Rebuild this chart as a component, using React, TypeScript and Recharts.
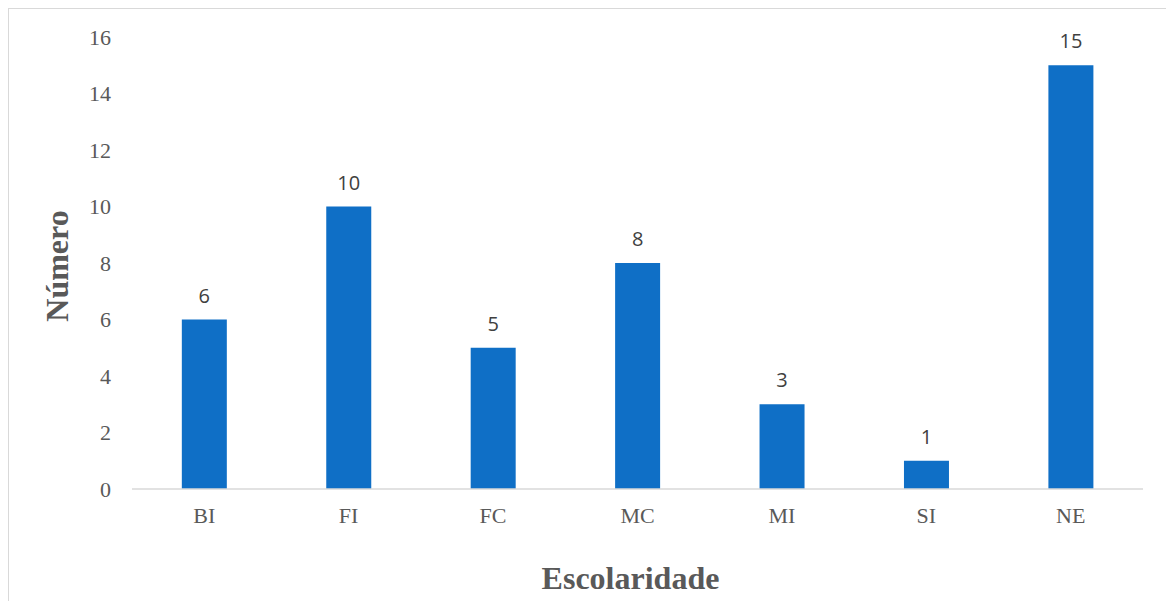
import { Bar, BarChart, LabelList, XAxis, YAxis } from "recharts";

// Escolaridade categories and counts
const categories = ["BI", "FI", "FC", "MC", "MI", "SI", "NE"];
const counts = [6, 10, 5, 8, 3, 1, 15];
const yTicks = [0, 2, 4, 6, 8, 10, 12, 14, 16];

const data = categories.map((name, i) => ({ name, value: counts[i] }));

const serif = "'Liberation Serif', 'Times New Roman', serif";
const sans = "'Open Sans', 'Liberation Sans', sans-serif";

export default function App() {
  return (
    <div style={{ position: "relative", width: 1166, height: 601, overflow: "hidden", background: "#fff" }}>
      <style>{"body{margin:0;overflow:hidden}"}</style>
      {/* chart frame, runs off the right/bottom edge like the source */}
      <div
        style={{
          position: "absolute",
          left: 8,
          top: 8,
          width: 1180,
          height: 620,
          border: "1.5px solid #d9d9d9",
          boxSizing: "border-box",
        }}
      />
      <div style={{ position: "absolute", left: 0, top: 0 }}>
        <BarChart
          width={1166}
          height={601}
          data={data}
          barCategoryGap="34.5%"
          margin={{ top: 37, right: 23, bottom: 82, left: 0 }}
        >
          <XAxis
            dataKey="name"
            axisLine={{ stroke: "#d9d9d9", strokeWidth: 1.5 }}
            tickLine={false}
            tickMargin={12}
            tick={{ fill: "#595959", fontSize: 22, fontFamily: serif }}
            label={{
              content: ({ viewBox }: any) => (
                <text
                  x={viewBox.x + viewBox.width / 2 - 7}
                  y={viewBox.y + 100}
                  textAnchor="middle"
                  fill="#595959"
                  fontFamily={serif}
                  fontWeight="bold"
                  fontSize={32}
                >
                  Escolaridade
                </text>
              ),
            }}
          />
          <YAxis
            width={132}
            domain={[0, 16]}
            ticks={yTicks}
            interval={0}
            axisLine={false}
            tickLine={false}
            tickMargin={15}
            tick={{ fill: "#595959", fontSize: 22, fontFamily: serif }}
            label={{
              content: ({ viewBox }: any) => {
                const cx = 57;
                const cy = viewBox.y + viewBox.height / 2 + 3;
                return (
                  <text
                    x={cx}
                    y={cy}
                    transform={`rotate(-90 ${cx} ${cy})`}
                    textAnchor="middle"
                    dominantBaseline="central"
                    fill="#595959"
                    fontFamily={serif}
                    fontWeight="bold"
                    fontSize={32}
                  >
                    Número
                  </text>
                );
              },
            }}
          />
          <Bar dataKey="value" fill="#0f6fc6" isAnimationActive={false}>
            <LabelList
              dataKey="value"
              position="top"
              offset={17}
              fill="#404040"
              fontSize={20}
              fontFamily={sans}
            />
          </Bar>
        </BarChart>
      </div>
    </div>
  );
}
